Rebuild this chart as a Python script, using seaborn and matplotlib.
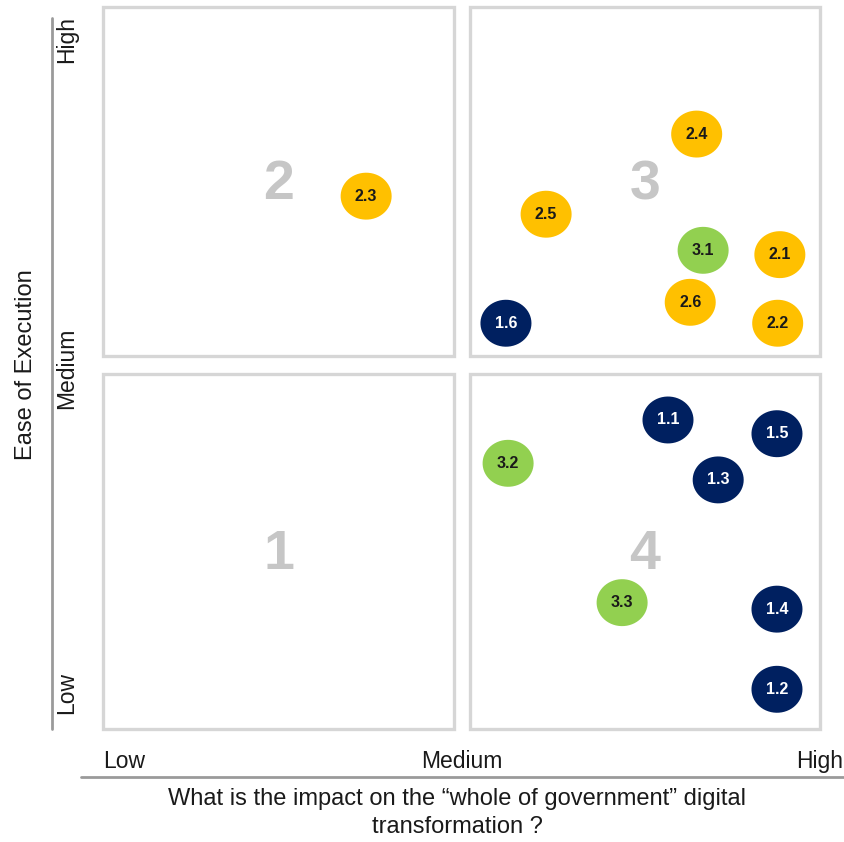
"""Prioritisation matrix: impact vs ease of execution, four quadrants."""

import numpy as np
import pandas as pd
import matplotlib.pyplot as plt
import seaborn as sns
from matplotlib.patches import Rectangle
from matplotlib.path import Path
from matplotlib.lines import Line2D

# ---- data (0-10 scale on both axes) ----
labels = ["2.3", "2.4", "2.5", "3.1", "2.1", "2.6", "2.2", "1.6",
          "1.1", "1.5", "3.2", "1.3", "3.3", "1.4", "1.2"]
impact = [3.67, 8.28, 6.18, 8.37, 9.44, 8.19, 9.41, 5.62,
          7.88, 9.40, 5.65, 8.58, 7.24, 9.40, 9.40]
ease = [7.38, 8.24, 7.13, 6.63, 6.57, 5.91, 5.62, 5.62,
        4.28, 4.09, 3.68, 3.45, 1.75, 1.66, 0.55]

quadrant_ids = ["1", "2", "3", "4"]
quadrant_x = [(0.0, 4.90), (0.0, 4.90), (5.12, 10.0), (5.12, 10.0)]
quadrant_y = [(0.0, 4.92), (5.16, 10.0), (5.16, 10.0), (0.0, 4.92)]

x_ticklabels = ["Low", "Medium", "High"]
y_ticklabels = ["Low", "Medium", "High"]

group_colors = {"1": "#002060", "2": "#FFC000", "3": "#92D050"}
text_colors = {"1": "white", "2": "#1a1a1a", "3": "#1a1a1a"}

df = pd.DataFrame({"label": labels, "impact": impact, "ease": ease})
df["group"] = df["label"].str[0]

sns.set_style("white")
plt.rcParams["font.family"] = ["Liberation Sans", "DejaVu Sans"]

fig = plt.figure(figsize=(8.45, 8.42), dpi=100)
ax = fig.add_axes([103 / 845, 1 - 729 / 842, 717 / 845, 722 / 842])
ax.set_xlim(0, 10)
ax.set_ylim(0, 10)

# quadrant boxes + big grey numbers
for qid, (x0, x1), (y0, y1) in zip(quadrant_ids, quadrant_x, quadrant_y):
    ax.add_patch(Rectangle((x0, y0), x1 - x0, y1 - y0, fill=False,
                           edgecolor="#d6d6d6", linewidth=2.4, clip_on=False, zorder=1))
    ax.text((x0 + x1) / 2, (y0 + y1) / 2 - 0.05, qid, ha="center", va="center",
            fontsize=40, fontweight="bold", color="#c6c6c6", zorder=2)

# slightly flattened circle marker
theta = np.linspace(0, 2 * np.pi, 60)
ellipse = Path(np.column_stack([np.cos(theta), 0.92 * np.sin(theta)]), closed=True)

sns.scatterplot(data=df, x="impact", y="ease", hue="group", palette=group_colors,
                marker=ellipse, s=1350, linewidth=0, legend=False, ax=ax, zorder=3)

for _, row in df.iterrows():
    ax.text(row["impact"], row["ease"], row["label"], ha="center", va="center",
            fontsize=11.5, fontweight="bold", color=text_colors[row["group"]], zorder=4)

# axes styling
for sp in ax.spines.values():
    sp.set_visible(False)

ax.set_xticks([0, 5, 10])
ax.set_xticklabels(x_ticklabels, fontsize=16.5, color="#1a1a1a")
for lab, ha in zip(ax.get_xticklabels(), ["left", "center", "center"]):
    lab.set_ha(ha)
ax.set_yticks([0.5, 5.0, 9.55])
ax.set_yticklabels(y_ticklabels, fontsize=16.5, color="#1a1a1a", rotation=90, va="center")
ax.tick_params(axis="x", length=0, pad=15)
ax.tick_params(axis="y", length=0, pad=18)

ax.set_xlabel("What is the impact on the \u201cwhole of government\u201d digital\ntransformation ?",
              fontsize=17, color="#1a1a1a", linespacing=1.35)
ax.xaxis.set_label_coords(0.494, -0.082)
ax.set_ylabel("Ease of Execution", fontsize=17, color="#1a1a1a")
ax.yaxis.set_label_coords(-0.092, 0.504)

# guide lines along the axes
fig.add_artist(Line2D([52 / 845, 52 / 845], [1 - 18 / 842, 1 - 729 / 842],
                      color="#9a9a9a", linewidth=2))
fig.add_artist(Line2D([81 / 845, 1.0], [1 - 777 / 842, 1 - 777 / 842],
                      color="#9a9a9a", linewidth=2))

fig.savefig("out.png", dpi=100)
